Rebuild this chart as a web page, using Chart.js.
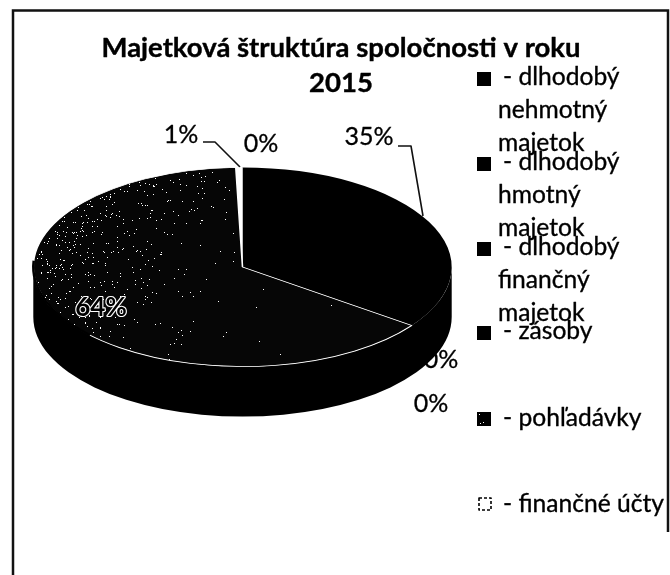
<!DOCTYPE html>
<html><head><meta charset="utf-8">
<style>html,body{margin:0;padding:0;background:#fff}canvas{display:block}</style>
<script src="https://cdn.jsdelivr.net/npm/chart.js@4"></script>
</head><body>
<div style="width:670px;height:575px"><canvas id="c" width="670" height="575"></canvas></div>
<script>
const titleLines = ['Majetková štruktúra spoločnosti v roku', '2015'];
const categories = ['dlhodobý nehmotný majetok','dlhodobý hmotný majetok','dlhodobý finančný majetok','zásoby','pohľadávky','finančné účty'];
const values = [35, 0, 0, 0, 64.49, 0.51];
const sliceColors = ['#000000','#000000','#000000','#000000','#060606','#ffffff'];
const legendLines = [['- dlhodobý','nehmotný','majetok'],['- dlhodobý','hmotný','majetok'],['- dlhodobý','finančný','majetok'],['- zásoby'],['- pohľadávky'],['- finančné účty']];

const FONT = 'Lato, Carlito, "Open Sans", sans-serif';
const SQUASH = 100/210, DEPTH = 50;
const labelPos = [[369,145],[441,368],[431,412],[261,152],[101,316],[181,143]];
const legendSwatchY = [79,164,249,333,419,504];
const legendLineY = [[85,118,151],[170,203,236],[255,288,321],[339],[426],[512]];

function pct(v){return Math.round(v)+'%';}
function heavyText(ctx,t,x,y,w){ctx.lineWidth=w;ctx.strokeStyle='#000';ctx.lineJoin='round';ctx.strokeText(t,x,y);ctx.fillText(t,x,y);}

const scene = {
  id:'scene',
  beforeDatasetsDraw(chart){
    const ctx = chart.ctx;
    ctx.save();
    ctx.strokeStyle='#111'; ctx.lineWidth=2.5; ctx.lineCap='butt';
    ctx.beginPath(); ctx.moveTo(13,575); ctx.lineTo(13,10.5); ctx.lineTo(668,10.5); ctx.lineTo(668,532); ctx.stroke();
    ctx.fillStyle='#000'; ctx.textBaseline='alphabetic'; ctx.textAlign='center';
    ctx.font='bold 27.5px '+FONT;
    heavyText(ctx,titleLines[0],341,57,0.4);
    heavyText(ctx,titleLines[1],341,92,0.4);
    ctx.font='25px '+FONT;
    values.forEach((v,i)=>{ if(i!==4) heavyText(ctx,pct(v),labelPos[i][0],labelPos[i][1],0.3); });
    ctx.strokeStyle='#111'; ctx.lineWidth=1.6;
    ctx.beginPath(); ctx.moveTo(203,142); ctx.lineTo(215,142); ctx.lineTo(240,167);
    ctx.moveTo(398,146); ctx.lineTo(411,146); ctx.lineTo(423,216); ctx.stroke();
    ctx.textAlign='left';
    ctx.font='24.6px '+FONT;
    categories.forEach((c,i)=>{
      const sy=legendSwatchY[i];
      if(i<5){ctx.fillStyle='#000';ctx.fillRect(477,sy-7,14,14);}
      if(i===4){ctx.fillStyle='#fff';[[479,sy-5],[483,sy+3],[480,sy+4]].forEach(p=>ctx.fillRect(p[0],p[1],1,1));}
      if(i===5){ctx.strokeStyle='#000';ctx.lineWidth=1.6;ctx.setLineDash([3,2]);ctx.strokeRect(479,sy-6,12,12);ctx.setLineDash([]);}
      ctx.fillStyle='#000';
      legendLines[i].forEach((t,j)=>{ heavyText(ctx,t,j===0?503:498,legendLineY[i][j],0.35); });
    });
    const el = chart.getDatasetMeta(0).data[0];
    const rx = el.outerRadius, ry = rx*SQUASH;
    ctx.fillStyle='#000';
    ctx.beginPath();
    ctx.ellipse(el.x,el.y+DEPTH,rx,ry,0,0,Math.PI);
    ctx.lineTo(el.x-rx,el.y);
    ctx.ellipse(el.x,el.y,rx,ry,0,Math.PI,0,true);
    ctx.closePath(); ctx.fill();
    ctx.restore();
  },
  beforeDatasetDraw(chart){
    const ctx=chart.ctx, el=chart.getDatasetMeta(0).data[0];
    ctx.save();
    ctx.translate(el.x,el.y); ctx.scale(1,SQUASH); ctx.translate(-el.x,-el.y);
  },
  afterDatasetDraw(chart){ chart.ctx.restore(); },
  afterDatasetsDraw(chart){
    const ctx=chart.ctx, el=chart.getDatasetMeta(0).data[4];
    const rx=el.outerRadius, ry=rx*SQUASH;
    ctx.save();
    ctx.strokeStyle='#000'; ctx.lineWidth=2.5;
    ctx.beginPath(); ctx.ellipse(el.x,el.y,rx,ry,0,Math.PI*0.76,Math.PI*1.02); ctx.stroke();
    ctx.fillStyle='#fff';
    let s=12345;
    const rnd=()=>{s=(s*48271)%2147483647;return s/2147483647;};
    for(let n=0;n<150000;n++){
      const x=el.x-rx+rnd()*rx*2, y=el.y-ry+rnd()*ry*2;
      const dx=(x-el.x)/rx, dy=(y-el.y)/ry, r=dx*dx+dy*dy;
      if(r>0.985) continue;
      let a=Math.atan2(dy,dx); if(a<-Math.PI/2) a+=Math.PI*2;
      if(a<el.startAngle+0.03||a>el.endAngle-0.03) continue;
      const t=(x-(el.x-rx))/(2*rx), u=(y-(el.y-ry))/(2*ry);
      const d=0.0006+0.028*Math.pow(Math.max(0,1-t*2),2)*(1.1-u*0.7)+0.008*Math.pow(Math.max(0,1-u*1.7),2);
      if(rnd()<d) ctx.fillRect(Math.round(x),Math.round(y),1,1);
    }
    ctx.font='bold 26px '+FONT; ctx.textAlign='center'; ctx.textBaseline='alphabetic';
    ctx.lineJoin='round'; ctx.lineWidth=2.2; ctx.strokeStyle='#fff'; ctx.fillStyle='#000';
    ctx.strokeText(pct(values[4]),labelPos[4][0],labelPos[4][1]);
    ctx.fillText(pct(values[4]),labelPos[4][0],labelPos[4][1]);
    ctx.restore();
  }
};

new Chart(document.getElementById('c'),{
  type:'pie',
  data:{labels:categories,datasets:[{
    data:values,
    backgroundColor:sliceColors,
    borderColor:'#ffffff',
    borderWidth:[0,0,0,0,1.6,0],
    borderAlign:'center'
  }]},
  options:{
    responsive:false,animation:false,rotation:0,
    layout:{padding:{left:32,right:217,top:57,bottom:98}},
    plugins:{legend:{display:false},tooltip:{enabled:false},title:{display:false}},
    events:[]
  },
  plugins:[scene]
});
</script>
</body></html>
